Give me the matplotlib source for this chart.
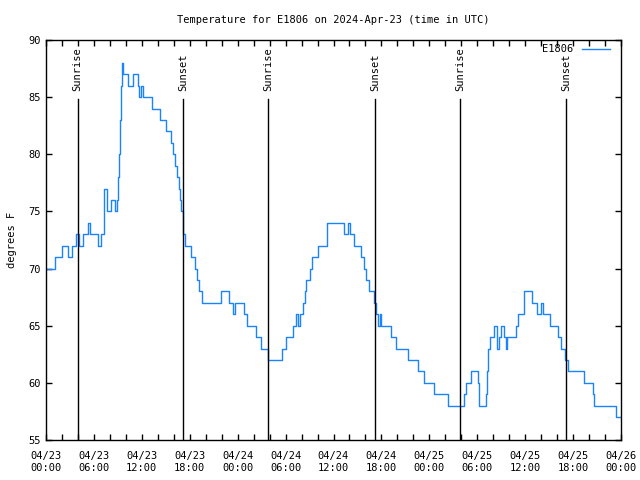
import matplotlib
matplotlib.use('Agg')
import matplotlib.pyplot as plt
from matplotlib.ticker import MultipleLocator

# hours since 04/23 00:00 UTC, and temperature (F) starting at that time
hours = [0.0, 1.13, 2.0, 2.7, 3.2, 3.8, 4.1, 4.6, 5.25, 5.45, 6.45, 6.9,
         7.3, 7.7, 8.2, 8.7, 8.95, 9.07, 9.2, 9.25, 9.4, 9.57, 9.7, 10.26,
         10.95, 11.58, 11.7, 11.9, 12.14, 13.27, 14.33, 15.0, 15.65, 15.9,
         16.15, 16.4, 16.6, 16.8, 16.95, 17.1, 17.2, 17.4, 18.2, 18.6, 18.9,
         19.15, 19.5, 21.9, 22.9, 23.4, 23.65, 24.8, 25.2, 26.3, 26.9, 27.85,
         29.6, 30.0, 30.9, 31.35, 31.55, 31.8, 32.15, 32.4, 32.6, 33.05, 33.3,
         34.05, 35.15, 37.35, 37.85, 38.05, 38.6, 39.45, 39.85, 40.1, 40.4,
         41.1, 41.3, 41.55, 41.8, 42.0, 43.2, 43.8, 45.35, 46.6, 47.35, 48.55,
         50.4, 52.3, 52.55, 53.25, 54.05, 54.25, 55.1, 55.2, 55.4, 55.55,
         56.1, 56.5, 56.7, 56.95, 57.4, 57.6, 57.75, 58.8, 59.05, 59.8, 60.9,
         61.45, 62.0, 62.2, 63.1, 64.1, 64.45, 64.95, 65.35, 67.35, 68.45,
         68.65, 71.35, 71.95]
temps = [70, 71, 72, 71, 72, 73, 72, 73, 74, 73, 72, 73,
         77, 75, 76, 75, 76, 78, 80, 83, 86, 88, 87, 86,
         87, 86, 85, 86, 85, 84, 83, 82, 81, 80,
         79, 78, 77, 76, 75, 74, 73, 72, 71, 70, 69,
         68, 67, 68, 67, 66, 67, 66, 65, 64, 63, 62,
         63, 64, 65, 66, 65, 66, 67, 68, 69, 70, 71,
         72, 74, 73, 74, 73, 72, 71, 70, 69, 68,
         67, 66, 65, 66, 65, 64, 63, 62, 61, 60, 59,
         58, 59, 60, 61, 60, 58, 59, 61, 63, 64,
         65, 63, 64, 65, 64, 63, 64, 65, 66, 68, 67,
         66, 67, 66, 65, 64, 63, 62, 61, 60, 59,
         58, 57, 57]

sun_times = [3.97, 17.18, 27.85, 41.18, 51.88, 65.15]
sun_labels = ['Sunrise', 'Sunset', 'Sunrise', 'Sunset', 'Sunrise', 'Sunset']

tick_hours = list(range(0, 73, 6))
tick_labels = ['04/23\n00:00', '04/23\n06:00', '04/23\n12:00', '04/23\n18:00',
               '04/24\n00:00', '04/24\n06:00', '04/24\n12:00', '04/24\n18:00',
               '04/25\n00:00', '04/25\n06:00', '04/25\n12:00', '04/25\n18:00',
               '04/26\n00:00']

plt.rcParams['font.family'] = 'DejaVu Sans Mono'
plt.rcParams['font.size'] = 7

fig = plt.figure(figsize=(6.4, 4.8), dpi=100)
ax = fig.add_axes([46 / 640, 40 / 480, 575 / 640, 400 / 480])

ax.plot(hours, temps, drawstyle='steps-post', color='#1a84ff', lw=1.0, label='E1806')

for t, lab in zip(sun_times, sun_labels):
    ax.plot([t, t], [55, 84.8], color='black', lw=1.0)
    ax.text(t, 85.5, lab, rotation=90, ha='center', va='bottom', fontsize=7.5)

ax.set_xlim(0, 72)
ax.set_ylim(55, 90)
ax.set_xticks(tick_hours)
ax.set_xticklabels(tick_labels)
ax.xaxis.set_minor_locator(MultipleLocator(2))
ax.yaxis.set_major_locator(MultipleLocator(5))
ax.tick_params(which='both', direction='in', top=True, right=True,
               length=4, width=1, labelsize=7.5, pad=4)
ax.tick_params(axis='x', which='major', pad=8)

for s in ax.spines.values():
    s.set_linewidth(1)

ax.set_ylabel('degrees F', fontsize=7.5, labelpad=8)
ax.set_title('Temperature for E1806 on 2024-Apr-23 (time in UTC)', fontsize=7.5, pad=12)

ax.legend(loc='upper right', bbox_to_anchor=(0.988, 1.0), borderaxespad=0,
          frameon=False, markerfirst=False, handlelength=2.7,
          fontsize=7.5, handletextpad=0.8)

fig.savefig('out.png', dpi=100)
